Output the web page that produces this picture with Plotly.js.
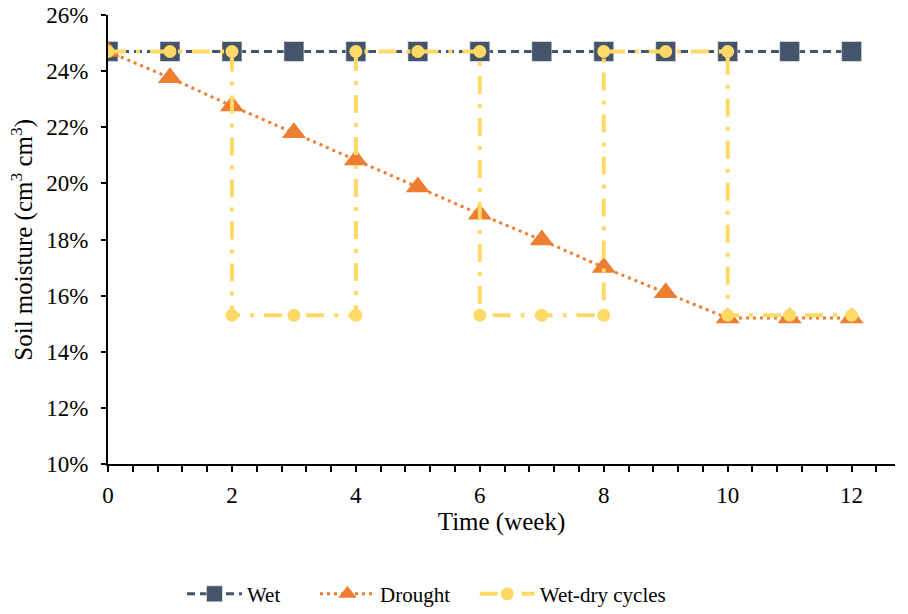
<!DOCTYPE html>
<html>
<head>
<meta charset="utf-8">
<script src="https://cdn.plot.ly/plotly-3.0.1.min.js"></script>
<style>html,body{margin:0;padding:0;background:#fff;}#chart{width:908px;height:614px;}</style>
</head>
<body>
<div id="chart"></div>
<script>
const weeks = [0,1,2,3,4,5,6,7,8,9,10,11,12];
const wet = [0.247,0.247,0.247,0.247,0.247,0.247,0.247,0.247,0.247,0.247,0.247,0.247,0.247];
const drought = [0.247,0.2376,0.2276,0.218,0.2083,0.1987,0.189,0.1798,0.170,0.161,0.152,0.152,0.152];
const cycleWeeks = [0,1,2,2,3,4,4,5,6,6,7,8,8,9,10,10,11,12];
const cycleVals = [0.247,0.247,0.247,0.153,0.153,0.153,0.247,0.247,0.247,0.153,0.153,0.153,0.247,0.247,0.247,0.153,0.153,0.153];
const xTicks = [0,2,4,6,8,10,12];
const yTicks = [0.10,0.12,0.14,0.16,0.18,0.20,0.22,0.24,0.26];
const yTitle = 'Soil moisture (cm<sup>3</sup> cm<sup>3</sup>)';

const traces = [
  {x: weeks, y: wet, name: 'Wet', type: 'scatter', mode: 'lines+markers', legend: 'legend',
   line: {color: '#44546A', width: 3, dash: '8px,5px'},
   marker: {symbol: 'square', size: 20, color: '#44546A', line: {color: '#ffffff', width: 0.5}}},
  {x: weeks, y: drought, name: 'Drought', type: 'scatter', mode: 'lines+markers', legend: 'legend2',
   line: {color: '#ED7D31', width: 3, dash: '3px,4px'},
   marker: {symbol: 'triangle-up', size: 21, color: '#ED7D31'}},
  {x: cycleWeeks, y: cycleVals, name: 'Wet-dry cycles', type: 'scatter', mode: 'lines+markers', legend: 'legend3',
   line: {color: '#FFD966', width: 4, dash: '18px,10px,4px,10px'},
   marker: {symbol: 'circle', size: 13, color: '#FFD966'}}
];

const legBase = {orientation: 'h', xanchor: 'left', y: -0.29, yanchor: 'middle',
                 font: {size: 21}, itemwidth: 55, bgcolor: 'rgba(0,0,0,0)'};

const layout = {
  width: 908, height: 614,
  margin: {l: 108, r: 13, t: 15, b: 150, autoexpand: false},
  paper_bgcolor: '#ffffff', plot_bgcolor: '#ffffff',
  font: {family: '"Liberation Serif", "Times New Roman", serif', size: 22, color: '#000'},
  showlegend: true,
  legend: Object.assign({}, legBase, {x: 0.094}),
  legend2: Object.assign({}, legBase, {x: 0.263}),
  legend3: Object.assign({}, legBase, {x: 0.466}),
  xaxis: {
    range: [0, 12.7], showgrid: false, zeroline: false, automargin: false,
    showline: true, linecolor: '#000', linewidth: 2,
    tickmode: 'array', tickvals: xTicks, ticktext: xTicks.map(String),
    ticks: 'outside', ticklen: 6, tickwidth: 2, tickcolor: '#000',
    ticklabelstandoff: 3,
    minor: {dtick: 0.4, tick0: 0, ticks: 'outside', ticklen: 6, tickwidth: 2, tickcolor: '#000', showgrid: false},
    tickfont: {size: 23},
    title: {text: 'Time (week)', font: {size: 25}, standoff: 1}
  },
  yaxis: {
    range: [0.10, 0.26], showgrid: false, zeroline: false, automargin: false,
    showline: true, linecolor: '#000', linewidth: 2,
    tickmode: 'array', tickvals: yTicks, ticktext: yTicks.map(v => Math.round(v*100) + '%'),
    ticks: 'outside', ticklen: 5, tickwidth: 2, tickcolor: '#000',
    ticklabelstandoff: 8,
    tickfont: {size: 23}
  },
  annotations: [
    {text: yTitle, xref: 'paper', yref: 'paper', x: -0.109, y: 0.5, xanchor: 'center', yanchor: 'middle',
     textangle: -90, showarrow: false, font: {size: 25}}
  ]
};

Plotly.newPlot('chart', traces, layout, {displayModeBar: false, staticPlot: true});
</script>
</body>
</html>
